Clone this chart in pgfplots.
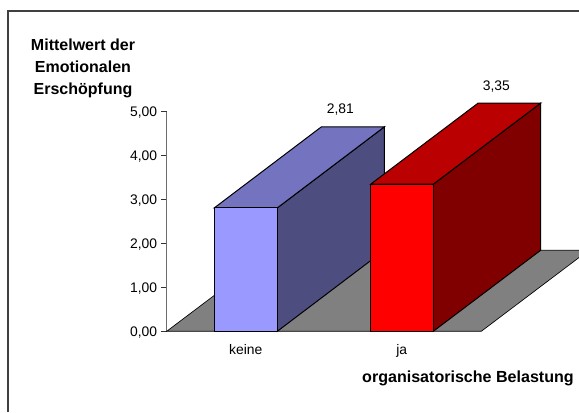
\documentclass[border=0pt]{standalone}
\usepackage{pgfplots}
\pgfplotsset{compat=1.18}
\usepackage{fontspec}
\setmainfont{Liberation Sans}
\definecolor{blueFront}{HTML}{9999FF}
\definecolor{blueTop}{HTML}{7373BF}
\definecolor{blueSide}{HTML}{4D4D80}
\definecolor{redFront}{HTML}{FF0000}
\definecolor{redTop}{HTML}{BA0000}
\definecolor{redSide}{HTML}{800000}
\definecolor{floorGrey}{HTML}{808080}
\definecolor{frameGrey}{HTML}{404040}
\begin{document}
\begin{tikzpicture}[x=0.75pt,y=0.75pt]
% page area; one unit is one pixel of the 579 x 412 sheet
\path[use as bounding box,clip] (0,0) rectangle (579,412);
\draw[frameGrey,line width=1.3pt] (8,0) -- (8,401) -- (579,401);
\begin{axis}[
  at={(125.025pt,60.525pt)},
  anchor=origin,
  scale only axis,
  width=309.225pt,
  height=164.7pt,
  xmin=166.7, xmax=579,
  ymin=0, ymax=5,
  clip=false,
  axis y line*=left,
  axis x line*=bottom,
  x axis line style={draw=none},
  y axis line style={draw=gray!85!black,line width=0.6pt},
  xtick={245.8,401.7},
  xticklabels={keine,ja},
  x tick style={draw=none},
  ytick={0,1,2,3,4,5},
  y tick style={draw=black!80,line width=0.5pt},
  tick align=outside,
  major tick length=4.3pt,
  yticklabel style={
    /pgf/number format/.cd,fixed,fixed zerofill,precision=2,use comma,assume math mode=true,
    /tikz/.cd,font=\fontsize{10.4}{12}\selectfont,xshift=0.6pt,yshift=-0.6pt},
  xticklabel style={font=\fontsize{10.4}{12}\selectfont,yshift=-2.4pt},
  xlabel={organisatorische Belastung},
  every axis x label/.style={at={(axis cs:468,-1.16)},anchor=base,
    font=\fontsize{12.05}{15}\selectfont\bfseries},
  ylabel={Mittelwert der\\Emotionalen\\Erschöpfung},
  every axis y label/.style={at={(axis cs:83,5.995)},anchor=center,align=center,
    font=\fontsize{12}{16.5}\selectfont\bfseries},
]
% floor of the chart
\addplot[fill=floorGrey,draw=black,line width=0.5pt] coordinates
  {(166.7,0) (481.3,0) (588.6,1.844) (274.0,1.844)} -- cycle;

% category "keine": 2.81
\addplot[fill=blueSide,draw=black,line width=0.75pt] coordinates
  {(277.3,0) (384.3,1.844) (384.3,4.654) (277.3,2.81)} -- cycle;
\addplot[fill=blueTop,draw=black,line width=0.75pt] coordinates
  {(214.3,2.81) (277.3,2.81) (384.3,4.654) (321.3,4.654)} -- cycle;
\addplot[fill=blueFront,draw=black,line width=0.75pt] coordinates
  {(214.3,0) (277.3,0) (277.3,2.81) (214.3,2.81)} -- cycle;

% category "ja": 3.35
\addplot[fill=redSide,draw=black,line width=0.75pt] coordinates
  {(433.3,0) (540.6,1.844) (540.6,5.194) (433.3,3.35)} -- cycle;
\addplot[fill=redTop,draw=black,line width=0.75pt] coordinates
  {(370.7,3.35) (433.3,3.35) (540.6,5.194) (478,5.194)} -- cycle;
\addplot[fill=redFront,draw=black,line width=0.75pt] coordinates
  {(370.7,0) (433.3,0) (433.3,3.35) (370.7,3.35)} -- cycle;

% value labels
\node[font=\fontsize{10.4}{12}\selectfont] at (axis cs:340.3,5.04) {2,81};
\node[font=\fontsize{10.4}{12}\selectfont] at (axis cs:496.3,5.565) {3,35};
\end{axis}
\end{tikzpicture}
\end{document}
